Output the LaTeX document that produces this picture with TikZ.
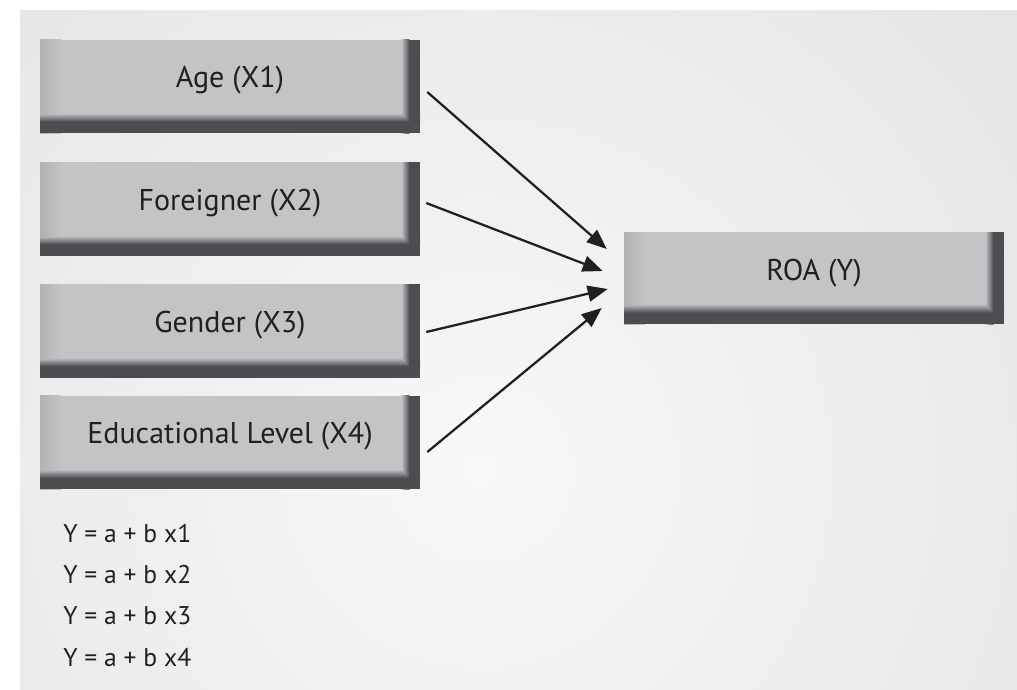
\documentclass[tikz,border=0pt]{standalone}
\usepackage{fontspec}
\setmainfont{PT Sans}
\usetikzlibrary{arrows.meta,calc}
\definecolor{boxL}{HTML}{C3C4C6}
\definecolor{boxE}{HTML}{B0B1B3}
\definecolor{boxD}{HTML}{4C4D50}
\definecolor{bgOut}{HTML}{D2D3D5}
\definecolor{bgIn}{HTML}{F8F8F8}
\definecolor{ink}{HTML}{231F20}
\begin{document}
\begin{tikzpicture}[x=0.75pt,y=-0.75pt,
  box/.style={rectangle, inner sep=0pt, minimum width=285pt, minimum height=70pt, fill=boxL,
    path picture={
      \coordinate (pa) at (path picture bounding box.north west);
      \coordinate (pb) at (path picture bounding box.south east);
      \begin{scope}[blend mode=darken]
      \shade[left color=boxE, right color=boxL] (pa) rectangle ([xshift=16pt]pa |- pb);
      % bottom band
      \shade[top color=boxL, bottom color=boxD] ([yshift=15pt]pa |- pb) rectangle ([yshift=8.5pt]pb);
      \fill[boxD] ([yshift=8.5pt]pa |- pb) rectangle (pb);
      % right band
      \shade[left color=boxL, right color=boxD] ([xshift=-14pt]pb |- pa) rectangle ([xshift=-8pt]pb);
      \fill[boxD] ([xshift=-8pt]pb |- pa) rectangle (pb);
      \end{scope}
    }},
  lbl/.style={inner sep=0pt, text=ink, font=\fontsize{22.5}{27}\selectfont, yshift=4.5pt},
  eqn/.style={inner sep=0pt, anchor=base west, text=ink, font=\fontsize{19.2}{23}\selectfont},
  conn/.style={draw=ink, line width=1.7pt, -{Triangle[length=15pt,width=12pt]}}
]
\useasboundingbox (0,0) rectangle (1017,689);
\fill[white] (0,0) rectangle (1017,689);
\begin{scope}
  \clip (20,10) rectangle (1017,689);
  \fill[bgOut] (20,10) rectangle (1017,689);
  \shade[inner color=bgIn, outer color=bgOut] (480,470) circle (1360);
\end{scope}

\node[box, label={[lbl]center:Age (X1)}] (age) at (230,86.5) {};
\node[box, label={[lbl]center:Foreigner (X2)}] (fore) at (230,209) {};
\node[box, label={[lbl]center:Gender (X3)}] (gend) at (230,331) {};
\node[box, label={[lbl]center:Educational Level (X4)}] (edu) at (230,442.5) {};
\node[box, minimum height=69pt, label={[lbl, yshift=-0.75pt]center:ROA (Y)}] (roa) at (814,278) {};

\draw[conn] ($(age.east)+(7,5.5)$) -- ($(roa.west)+(-17,-29)$);
\draw[conn] ($(fore.east)+(6,-6)$) -- ($(roa.west)+(-21,-7)$);
\draw[conn] ($(gend.east)+(6,1)$) -- ($(roa.west)+(-16,11)$);
\draw[conn] ($(edu.east)+(7,9.5)$) -- ($(roa.west)+(-22,30)$);

\node[eqn] (eq1) at (63,542) {Y = a + b x1};
\node[eqn] (eq2) at (63,583) {Y = a + b x2};
\node[eqn] (eq3) at (63,624) {Y = a + b x3};
\node[eqn] (eq4) at (63,666) {Y = a + b x4};
\end{tikzpicture}
\end{document}
